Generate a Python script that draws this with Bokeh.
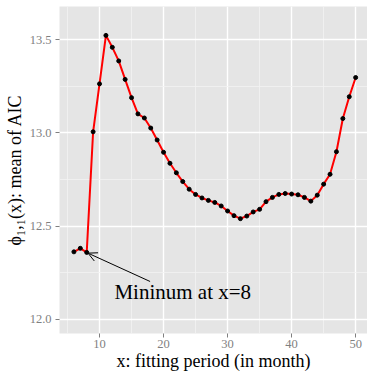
from bokeh.plotting import figure
from bokeh.models import (ColumnDataSource, FixedTicker, Range1d, Arrow, OpenHead, Label,
                          PrintfTickFormatter)
from bokeh.embed import file_html
from bokeh.resources import INLINE

# fitting period (months) and mean AIC for each period
period = list(range(6, 51))
mean_aic = [12.362, 12.381, 12.359, 13.006, 13.263, 13.523, 13.459, 13.386, 13.287, 13.189,
            13.102, 13.080, 13.026, 12.962, 12.896, 12.837, 12.786, 12.739, 12.698, 12.670,
            12.651, 12.638, 12.627, 12.608, 12.581, 12.556, 12.540, 12.554, 12.576, 12.590,
            12.631, 12.654, 12.670, 12.675, 12.672, 12.668, 12.654, 12.634, 12.666, 12.725,
            12.778, 12.899, 13.077, 13.194, 13.297]

x_ticks = [10, 20, 30, 40, 50]
x_minor = [5, 15, 25, 35, 45]
y_ticks = [12.0, 12.5, 13.0, 13.5]
y_minor = [12.25, 12.75, 13.25]

min_x, min_y = 8, 12.359
note_text = "Mininum at x=8"

FONT = "Liberation Serif"

src = ColumnDataSource(data=dict(x=period, y=mean_aic))

p = figure(width=367, height=373, output_backend="svg", toolbar_location=None,
           x_range=Range1d(3.75, 51.85), y_range=Range1d(11.924, 13.678),
           min_border_left=59, min_border_right=0, min_border_top=6, min_border_bottom=38)

p.background_fill_color = "#E5E5E5"
p.border_fill_color = "white"
p.outline_line_color = None

p.xaxis.ticker = FixedTicker(ticks=x_ticks, minor_ticks=x_minor)
p.yaxis.ticker = FixedTicker(ticks=y_ticks, minor_ticks=y_minor)
p.yaxis.formatter = PrintfTickFormatter(format="%.1f")

for ax in (p.xaxis, p.yaxis):
    ax.axis_line_color = None
    ax.major_tick_line_color = "#7F7F7F"
    ax.major_tick_out = 4
    ax.major_tick_in = 0
    ax.minor_tick_line_color = None
    ax.major_label_text_font = FONT
    ax.major_label_text_font_size = "12.5px"
    ax.major_label_text_color = "#7F7F7F"
    ax.axis_label_text_font = FONT
    ax.axis_label_text_font_size = "18px"
    ax.axis_label_text_font_style = "normal"
    ax.axis_label_text_color = "black"

p.xaxis.axis_label = "x: fitting period (in month)"
p.yaxis.axis_label = "ϕ₁,₁(x): mean of AIC"
p.xaxis.major_label_standoff = 2
p.xaxis.axis_label_standoff = 0
p.yaxis.major_label_standoff = 4
p.yaxis.axis_label_standoff = 2

for g in (p.xgrid, p.ygrid):
    g.grid_line_color = "white"
    g.grid_line_width = 1.4
    g.minor_grid_line_color = "#F2F2F2"
    g.minor_grid_line_width = 0.8

p.line("x", "y", source=src, line_color="red", line_width=2)
p.scatter("x", "y", source=src, size=4, fill_color="black", line_color="black")

# annotation pointing at the minimum
p.add_layout(Arrow(end=OpenHead(size=9, line_color="black", line_width=1),
                   x_start=17.9, y_start=12.203, x_end=min_x + 0.2, y_end=min_y - 0.004,
                   line_color="black", line_width=1))
p.add_layout(Label(x=23.0, y=12.146, text=note_text, text_font=FONT,
                   text_font_size="21px", text_align="center", text_baseline="middle",
                   text_color="black"))

open("out.html", "w").write(file_html(p, INLINE))
